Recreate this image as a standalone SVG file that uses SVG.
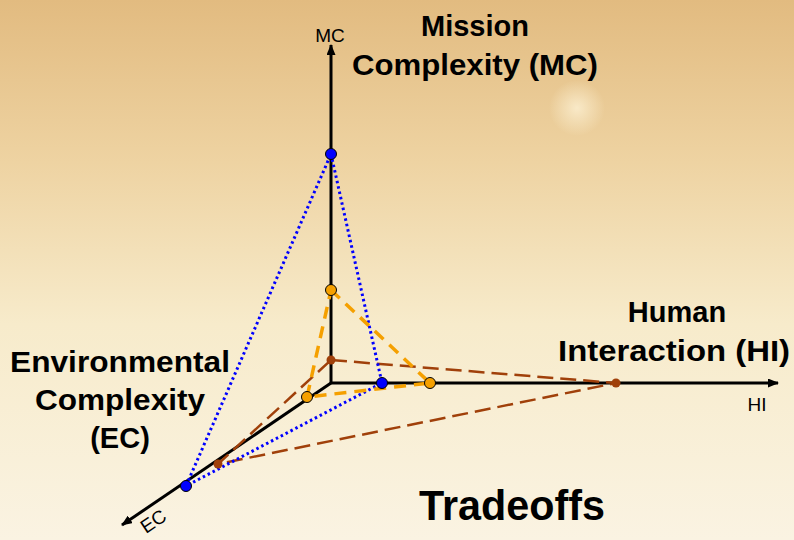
<svg xmlns="http://www.w3.org/2000/svg" width="794" height="540" viewBox="0 0 794 540">
<defs>
<linearGradient id="bg" x1="0" y1="0" x2="0" y2="1">
<stop offset="0" stop-color="#e2bb80"/>
<stop offset="0.3" stop-color="#eed3a2"/>
<stop offset="0.6" stop-color="#f7ebcb"/>
<stop offset="1" stop-color="#faf3e2"/>
</linearGradient>
<radialGradient id="glow" cx="577" cy="108" r="28" gradientUnits="userSpaceOnUse">
<stop offset="0" stop-color="#fff6dc" stop-opacity="0.7"/>
<stop offset="1" stop-color="#fff6dc" stop-opacity="0"/>
</radialGradient>
<marker id="arr" markerWidth="11" markerHeight="9" refX="10" refY="4.5" orient="auto" markerUnits="userSpaceOnUse">
<path d="M0,0 L11,4.5 L0,9 Z" fill="#000"/>
</marker>
<style>
.axis{stroke:#000;stroke-width:3;fill:none}
.lbl{font-family:"Liberation Sans",Arial,sans-serif;font-size:19px;fill:#000}
.title{font-family:"Liberation Sans",Arial,sans-serif;font-weight:bold;font-size:29px;fill:#000;text-anchor:middle}
.blue{stroke:#0000ff;stroke-width:3;stroke-dasharray:2.5 3;fill:none}
.orange{stroke:#f5a000;stroke-width:3.5;stroke-dasharray:12 8;fill:none}
.brown{stroke:#a0400a;stroke-width:2.5;stroke-dasharray:16 7;fill:none}
.pb{fill:#0000ff;stroke:#000;stroke-width:1}
.po{fill:#f5a000;stroke:#000;stroke-width:1}
.pr{fill:#a0400a}
</style>
</defs>
<rect width="794" height="540" fill="url(#bg)"/>
<circle cx="577" cy="108" r="28" fill="url(#glow)"/>
<g id="connectors">
<line class="axis" x1="331" y1="383" x2="331" y2="45" marker-end="url(#arr)"/>
<line class="axis" x1="331" y1="383" x2="778" y2="383" marker-end="url(#arr)"/>
<line class="axis" x1="331" y1="383" x2="122" y2="525" marker-end="url(#arr)"/>
<path class="brown" d="M331,360 L616,383 L218,464 Z"/>
<path class="blue" d="M331,154 L382,383 L186,486 Z"/>
<path class="orange" d="M331,290 L430,383 L307,397 Z"/>
</g>
<g id="axis-labels">
<text class="lbl" x="330" y="42" text-anchor="middle">MC</text>
<text class="lbl" x="757" y="411" text-anchor="middle">HI</text>
<text class="lbl" x="0" y="0" transform="translate(146,534) rotate(-34)">EC</text>
</g>
<g id="points">
<circle class="pb" cx="331" cy="154" r="5.5"/>
<circle class="pb" cx="382" cy="383" r="5.5"/>
<circle class="pb" cx="186" cy="486" r="5.5"/>
<circle class="po" cx="331" cy="290" r="5.5"/>
<circle class="po" cx="430" cy="383" r="5.5"/>
<circle class="po" cx="307" cy="397" r="5.5"/>
<circle class="pr" cx="331" cy="360" r="4.5"/>
<circle class="pr" cx="616" cy="383" r="4.5"/>
<circle class="pr" cx="218" cy="464" r="4.5"/>
</g>
<g id="mc-title">
<text class="title" x="475" y="36">Mission</text>
<text class="title" x="475" y="75" textLength="246" lengthAdjust="spacingAndGlyphs">Complexity (MC)</text>
</g>
<g id="hi-title">
<text class="title" x="677" y="322">Human</text>
<text class="title" x="674" y="361" textLength="232" lengthAdjust="spacingAndGlyphs">Interaction (HI)</text>
</g>
<g id="ec-title">
<text class="title" x="120" y="372" textLength="220" lengthAdjust="spacingAndGlyphs">Environmental</text>
<text class="title" x="120" y="410" textLength="170" lengthAdjust="spacingAndGlyphs">Complexity</text>
<text class="title" x="120" y="448">(EC)</text>
</g>
<g id="tradeoffs">
<text class="title" x="512" y="520" style="font-size:42px" textLength="186" lengthAdjust="spacingAndGlyphs">Tradeoffs</text>
</g>
</svg>
